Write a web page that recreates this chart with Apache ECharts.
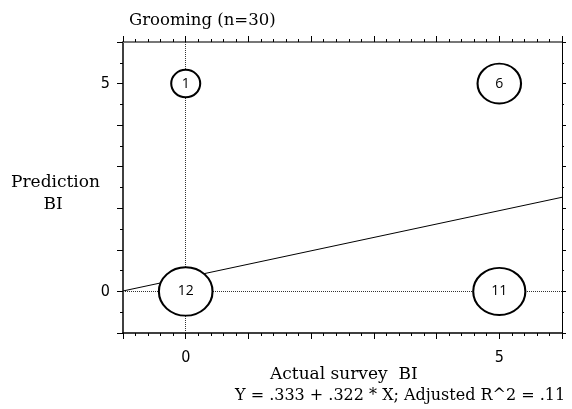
<!DOCTYPE html>
<html><head><meta charset="utf-8">
<script src="https://cdn.jsdelivr.net/npm/echarts@6/dist/echarts.min.js"></script>
<style>html,body{margin:0;padding:0;background:#fff}#c{width:572px;height:409px}</style>
</head><body><div id="c"></div>
<script>
// Data
const actualBI = [0, 5, 0, 5];
const predictedBI = [5, 5, 0, 0];
const counts = [1, 6, 12, 11];
const xTickLabels = [0, 5];
const yTickLabels = [0, 5];
const intercept = 0.333;
const slope = 0.322;
const xRange = [-1, 6];
const yRange = [-1, 6];

const bubbles = actualBI.map((x, i) => [x, predictedBI[i], counts[i]]);
const fitLine = xRange.map(x => [x, intercept + slope * x]);

const chart = echarts.init(document.getElementById('c'), null, {renderer: 'canvas'});
const serif = '"DejaVu Serif", "Liberation Serif", serif';
const tickFont = '"Liberation Sans Narrow", "DejaVu Sans Condensed", "Liberation Sans", sans-serif';

const baseX = {
  type: 'value', min: xRange[0], max: xRange[1], interval: 1,
  splitLine: {show: false},
  minorTick: {show: true, splitNumber: 5, length: 3, lineStyle: {color: '#000'}},
  axisTick: {show: true, length: 6, lineStyle: {color: '#000'}},
};
const baseY = {
  type: 'value', min: yRange[0], max: yRange[1], interval: 1,
  splitLine: {show: false},
  minorTick: {show: true, splitNumber: 2, length: 3, lineStyle: {color: '#000'}},
  axisTick: {show: true, length: 6, lineStyle: {color: '#000'}},
};

chart.setOption({
  animation: false,
  grid: {left: 123, right: 10, top: 42, bottom: 76},
  xAxis: [
    Object.assign({}, baseX, {
      position: 'bottom',
      axisLine: {show: true, onZero: false, lineStyle: {color: '#000', width: 1.5}},
      axisLabel: {show: true, margin: 17, fontFamily: tickFont, fontSize: 16, color: '#000',
        formatter: v => xTickLabels.includes(v) ? String(v) : ''},
    }),
    Object.assign({}, baseX, {
      position: 'top',
      axisLine: {show: true, onZero: false, lineStyle: {color: '#777', width: 2}},
      axisLabel: {show: false},
    })
  ],
  yAxis: [
    Object.assign({}, baseY, {
      position: 'left',
      axisLine: {show: true, onZero: false, lineStyle: {color: '#000', width: 1.5}},
      axisLabel: {show: true, margin: 13, fontFamily: tickFont, fontSize: 16, color: '#000',
        formatter: v => yTickLabels.includes(v) ? String(v) : ''},
    }),
    Object.assign({}, baseY, {
      position: 'right',
      axisLine: {show: true, onZero: false, lineStyle: {color: '#000', width: 1}},
      axisTick: {show: true, length: 4, lineStyle: {color: '#000'}},
      minorTick: {show: true, splitNumber: 2, length: 2, lineStyle: {color: '#000'}},
      axisLabel: {show: false},
    })
  ],
  series: [
    {
      type: 'line', xAxisIndex: 0, yAxisIndex: 0, data: fitLine,
      symbol: 'none', lineStyle: {color: '#000', width: 1}, z: 2,
      markLine: {
        silent: true, symbol: 'none', label: {show: false},
        lineStyle: {color: '#333', width: 1, type: [1, 1]},
        data: [{xAxis: 0}, {yAxis: 0}]
      }
    },
    {
      type: 'scatter', xAxisIndex: 0, yAxisIndex: 0, data: bubbles, z: 5,
      symbol: 'circle',
      symbolSize: d => {
        const s = Math.sqrt(d[2]);
        return [19 + 10 * s, 19 + 8.5 * s];
      },
      itemStyle: {color: '#fff', borderColor: '#000', borderWidth: 2, opacity: 1},
      label: {show: true, position: 'inside', formatter: p => String(p.value[2]),
        fontFamily: '"Open Sans", "Liberation Sans", sans-serif', fontSize: 14, color: '#000'}
    }
  ],
  graphic: [
    {type: 'text', left: 129, top: 12, style: {text: 'Grooming (n=30)', font: '16.5px ' + serif, fill: '#000'}},
    {type: 'text', left: 11, top: 172, style: {text: 'Prediction\n      BI', font: '17px ' + serif, fill: '#000', lineHeight: 22}},
    {type: 'text', left: 270, top: 366, style: {text: 'Actual survey  BI', font: '17px ' + serif, fill: '#000'}},
    {type: 'text', left: 235, top: 388, style: {text: 'Y = .333 + .322 * X; Adjusted R^2 = .11', font: '16px ' + serif, fill: '#000'}}
  ]
});
</script></body></html>
